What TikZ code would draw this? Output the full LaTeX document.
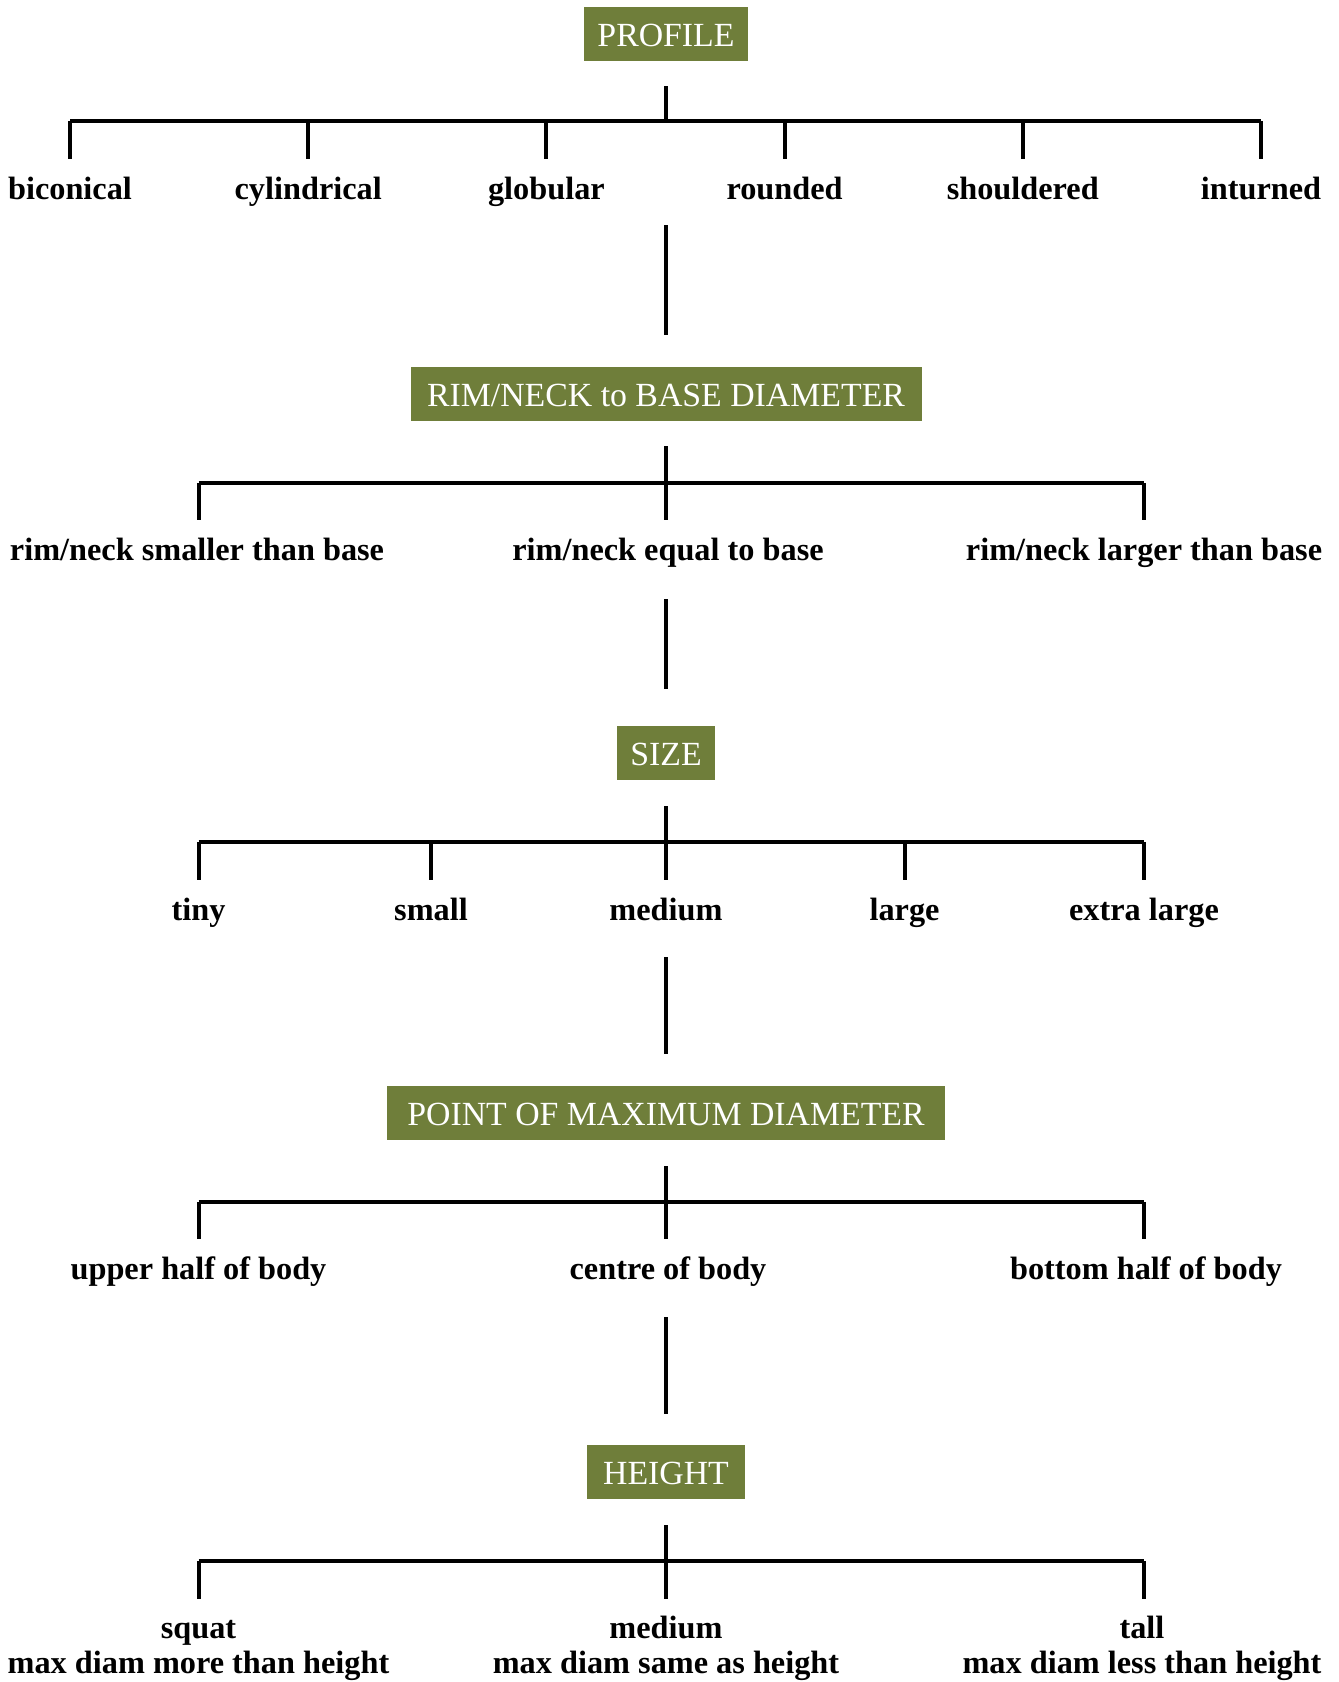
\documentclass[tikz,border=0pt]{standalone}
\usepackage{fontspec}
\setmainfont{Liberation Serif}
\definecolor{olive}{RGB}{111,126,58}
\tikzset{
  head/.style={fill=olive, text=white, inner sep=0pt, font=\fontsize{33.8}{36}\selectfont, minimum height=54pt, text height=25.4pt, text depth=0pt},
  lab/.style={anchor=base, inner sep=0pt, font=\bfseries\fontsize{32.3}{35}\selectfont, align=center},
  conn/.style={line width=4pt}
}
\begin{document}
\begin{tikzpicture}[x=1pt,y=-1pt]
\useasboundingbox (0,0) rectangle (1339,1682);
% headers
\node[head, minimum width=164pt] (profile) at (666,34) {PROFILE};
\node[head, minimum width=511pt] (rim) at (666,394) {RIM/NECK to BASE DIAMETER};
\node[head, minimum width=98pt] (size) at (666,753) {SIZE};
\node[head, minimum width=558pt] (point) at (666,1113) {POINT OF MAXIMUM DIAMETER};
\node[head, minimum width=158pt] (height) at (666,1472) {HEIGHT};

% ---- PROFILE ----
\coordinate (p0) at (666,86);
\coordinate (pj) at (666,121);
\foreach \i/\n/\t in {0/biconical/biconical,1/cylindrical/cylindrical,2/globular/globular,3/rounded/rounded,4/shouldered/shouldered,5/inturned/inturned}{
  \coordinate (pt\i) at ({70+238.2*\i},121);
  \coordinate (pb\i) at ({70+238.2*\i},159);
  \node[lab] (\n) at ({70+238.2*\i},199) {\t};
}
\draw[conn] (p0) -- (pj);
\draw[conn] (pt0) -- (pt5);
\foreach \i in {0,...,5}{\draw[conn] (pt\i) -- (pb\i);}
\coordinate (c1a) at (666,225);
\coordinate (c1b) at (666,335);
\draw[conn] (c1a) -- (c1b);

% ---- RIM ----
\coordinate (r0) at (666,446);
\coordinate (rl) at (198.5,483);
\coordinate (rm) at (666,483);
\coordinate (rr) at (1144,483);
\coordinate (rlb) at (198.5,520);
\coordinate (rmb) at (666,520);
\coordinate (rrb) at (1144,520);
\draw[conn] (r0) -- (rm);
\draw[conn] (rl) -- (rr);
\draw[conn] (rl) -- (rlb);
\draw[conn] (rm) -- (rmb);
\draw[conn] (rr) -- (rrb);
\node[lab] (smaller) at (197,560) {rim/neck smaller than base};
\node[lab] (equal) at (668,560) {rim/neck equal to base};
\node[lab] (larger) at (1144,560) {rim/neck larger than base};
\coordinate (c2a) at (666,599);
\coordinate (c2b) at (666,689);
\draw[conn] (c2a) -- (c2b);

% ---- SIZE ----
\coordinate (s0) at (666,806);
\coordinate (sj) at (666,842);
\draw[conn] (s0) -- (sj);
\foreach \x/\n/\t in {198.5/tiny/tiny,431/small/small,666/medium/medium,904.5/large/large,1144/xlarge/extra large}{
  \coordinate (st\n) at (\x,842);
  \coordinate (sb\n) at (\x,880);
  \draw[conn] (st\n) -- (sb\n);
  \node[lab] (\n) at (\x,920) {\t};
}
\draw[conn] (sttiny) -- (stxlarge);
\coordinate (c3a) at (666,957);
\coordinate (c3b) at (666,1054);
\draw[conn] (c3a) -- (c3b);

% ---- POINT ----
\coordinate (m0) at (666,1166);
\coordinate (ml) at (198.5,1202);
\coordinate (mm) at (666,1202);
\coordinate (mr) at (1144,1202);
\coordinate (mlb) at (198.5,1239);
\coordinate (mmb) at (666,1239);
\coordinate (mrb) at (1144,1239);
\draw[conn] (m0) -- (mm);
\draw[conn] (ml) -- (mr);
\draw[conn] (ml) -- (mlb);
\draw[conn] (mm) -- (mmb);
\draw[conn] (mr) -- (mrb);
\node[lab] (upper) at (198.5,1279) {upper half of body};
\node[lab] (centre) at (668,1279) {centre of body};
\node[lab] (bottom) at (1146,1279) {bottom half of body};
\coordinate (c4a) at (666,1317);
\coordinate (c4b) at (666,1414);
\draw[conn] (c4a) -- (c4b);

% ---- HEIGHT ----
\coordinate (h0) at (666,1525);
\coordinate (hl) at (198.5,1561);
\coordinate (hm) at (666,1561);
\coordinate (hr) at (1144,1561);
\coordinate (hlb) at (198.5,1599);
\coordinate (hmb) at (666,1599);
\coordinate (hrb) at (1144,1599);
\draw[conn] (h0) -- (hm);
\draw[conn] (hl) -- (hr);
\draw[conn] (hl) -- (hlb);
\draw[conn] (hm) -- (hmb);
\draw[conn] (hr) -- (hrb);
\node[lab] (squat) at (198.5,1638) {squat};
\node[lab] (squatd) at (198.5,1673) {max diam more than height};
\node[lab] (hmed) at (666,1638) {medium};
\node[lab] (hmedd) at (666,1673) {max diam same as height};
\node[lab] (tall) at (1142,1638) {tall};
\node[lab] (talld) at (1142,1673) {max diam less than height};
\end{tikzpicture}
\end{document}
